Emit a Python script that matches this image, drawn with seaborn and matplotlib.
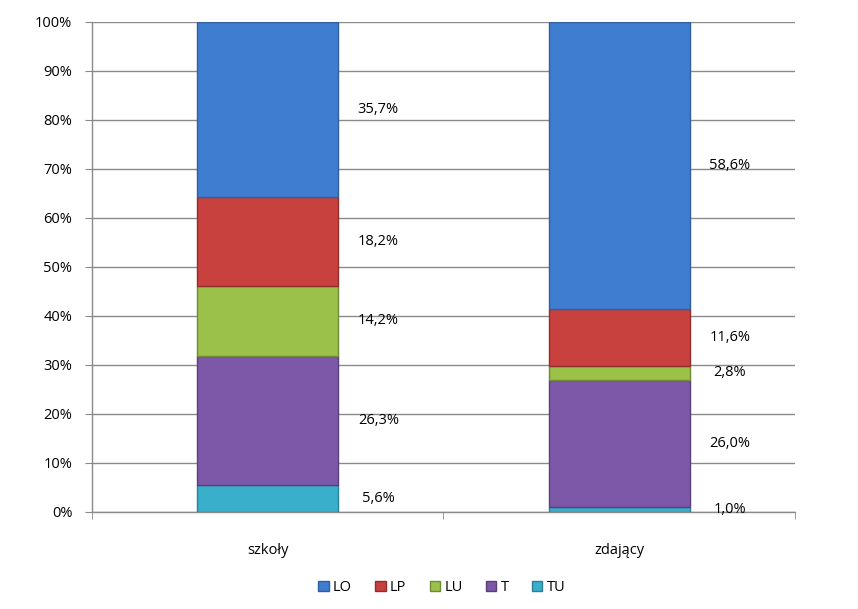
import seaborn as sns
import matplotlib.pyplot as plt
import numpy as np
from matplotlib.patches import Patch

categories = ['szkoły', 'zdający']
series = ['LO', 'LP', 'LU', 'T', 'TU']
LO = [35.7, 58.6]
LP = [18.2, 11.6]
LU = [14.2, 2.8]
T = [26.3, 26.0]
TU = [5.6, 1.0]
values = {'LO': LO, 'LP': LP, 'LU': LU, 'T': T, 'TU': TU}
colors = {'LO': '#3E7DD0', 'LP': '#C8413E', 'LU': '#9CC14A',
          'T': '#7D58A8', 'TU': '#3AAFCC'}
edges = {'LO': '#2F5F9E', 'LP': '#8F2E2C', 'LU': '#6F8A35',
         'T': '#5A3F7A', 'TU': '#2A7F95'}

sns.set_style("white")
plt.rcParams['font.family'] = ['Open Sans', 'DejaVu Sans']
plt.rcParams['font.size'] = 10.5
plt.rcParams['text.color'] = 'black'
plt.rcParams['xtick.color'] = 'black'
plt.rcParams['ytick.color'] = 'black'

fig = plt.figure(figsize=(8.58, 6.09), dpi=100)
ax = fig.add_axes([0.107, 0.1593, 0.8196, 0.8046])

bottom = np.zeros(len(categories))
for name in reversed(series):
    vals = np.array(values[name])
    sns.barplot(x=categories, y=vals, bottom=bottom, color=colors[name],
                saturation=1, width=0.4, edgecolor=edges[name], linewidth=1.0,
                ax=ax, zorder=3)
    for i, v in enumerate(vals):
        ax.text(i + 0.315, bottom[i] + v / 2, f'{v:.1f}%'.replace('.', ','),
                ha='center', va='center', fontsize=10.5, zorder=4)
    bottom += vals

ax.set_xlim(-0.5, 1.5)
ax.set_ylim(0, 100)
ax.set_yticks(np.arange(0, 101, 10))
ax.set_yticklabels([f'{t}%' for t in range(0, 101, 10)])
ax.yaxis.grid(True, color='#8a8a8a', linewidth=1, zorder=0)
ax.set_axisbelow(True)
ax.set_xlabel('')
ax.set_ylabel('')

for s in ['top', 'right']:
    ax.spines[s].set_visible(False)
for s in ['left', 'bottom']:
    ax.spines[s].set_color('#8a8a8a')
    ax.spines[s].set_linewidth(1)

ax.tick_params(axis='y', length=5, color='#8a8a8a', labelcolor='black', pad=9,
               direction='out', left=True)
ax.tick_params(axis='x', which='major', length=0, pad=22, labelcolor='black')
ax.set_xticks([-0.5, 0.5, 1.5], minor=True)
ax.tick_params(axis='x', which='minor', length=5, color='#8a8a8a', direction='out', bottom=True)

handles = [Patch(facecolor=colors[n], edgecolor=edges[n], label=n) for n in series]
fig.legend(handles=handles, loc='center', bbox_to_anchor=(0.515, 0.035), ncol=5,
           frameon=False, handlelength=0.7, handleheight=0.7, handletextpad=0.3,
           columnspacing=1.6, fontsize=10.5)

fig.savefig('out.png', dpi=100)
